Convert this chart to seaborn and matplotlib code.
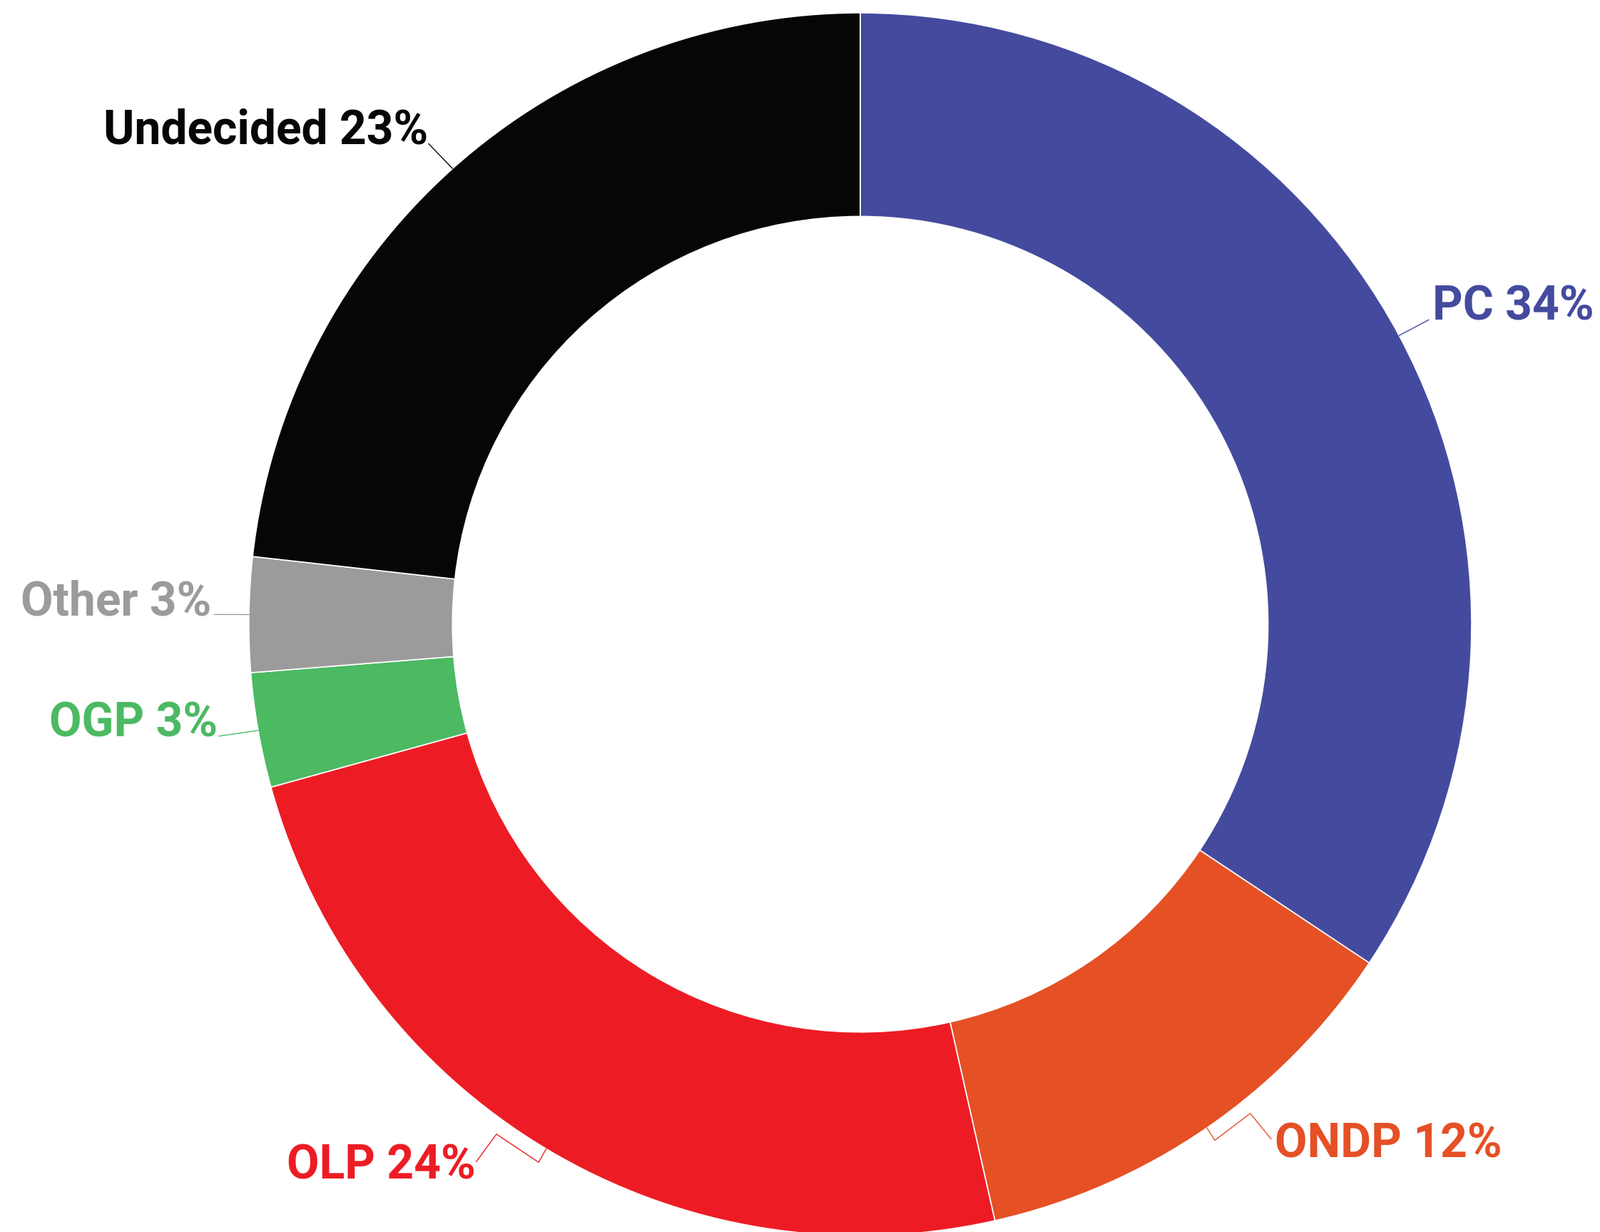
import numpy as np
import seaborn as sns
import matplotlib.pyplot as plt

# poll results (they add to 99 in the source)
parties = ['PC', 'ONDP', 'OLP', 'OGP', 'Other', 'Undecided']
shares = [34, 12, 24, 3, 3, 23]
colors = ['#444b9e', '#e55025', '#ed1c24', '#4cb963', '#9b9b9b', '#060604']

sns.set_theme(style='white')
plt.rcParams['font.family'] = ['Roboto', 'DejaVu Sans']

# label layout, in units of the outer radius: leader bends, text anchor, alignment
label_layout = {
    'PC': ([(0.930, 0.498)], (0.936, 0.498), 'left'),
    'ONDP': ([(0.580, -0.844), (0.638, -0.800), (0.672, -0.842)], (0.678, -0.872), 'left'),
    'OLP': ([(-0.526, -0.880), (-0.595, -0.834), (-0.628, -0.879)], (-0.629, -0.907), 'right'),
    'OGP': ([(-1.049, -0.183)], (-1.051, -0.184), 'right'),
    'Other': ([(-1.057, 0.016)], (-1.061, 0.015), 'right'),
    'Undecided': ([(-0.706, 0.786)], (-0.707, 0.786), 'right'),
}

fig = plt.figure(figsize=(22.43, 17.27), dpi=100)
ax = fig.add_axes([0, 0, 1, 1])
wedges, _ = ax.pie(shares, colors=colors, startangle=90, counterclock=False,
                   radius=1, wedgeprops=dict(width=0.333, edgecolor='white', linewidth=1.2))

for w, name, val, col in zip(wedges, parties, shares, colors):
    mid = np.deg2rad((w.theta1 + w.theta2) / 2)
    bends, (tx, ty), ha = label_layout[name]
    pts = [(np.cos(mid), np.sin(mid))] + bends
    ax.plot([p[0] for p in pts], [p[1] for p in pts], color=col, lw=1.0,
            solid_joinstyle='miter')
    ax.text(tx, ty, f'{name} {val}%', color=col, fontsize=47.5, fontweight='bold',
            ha=ha, va='baseline')

ax.set_xlim(-1.407, 1.210)
ax.set_ylim(-0.994, 1.021)
ax.set_aspect('equal', adjustable='box')
ax.axis('off')

fig.savefig('out.png', dpi=100, facecolor='white')
